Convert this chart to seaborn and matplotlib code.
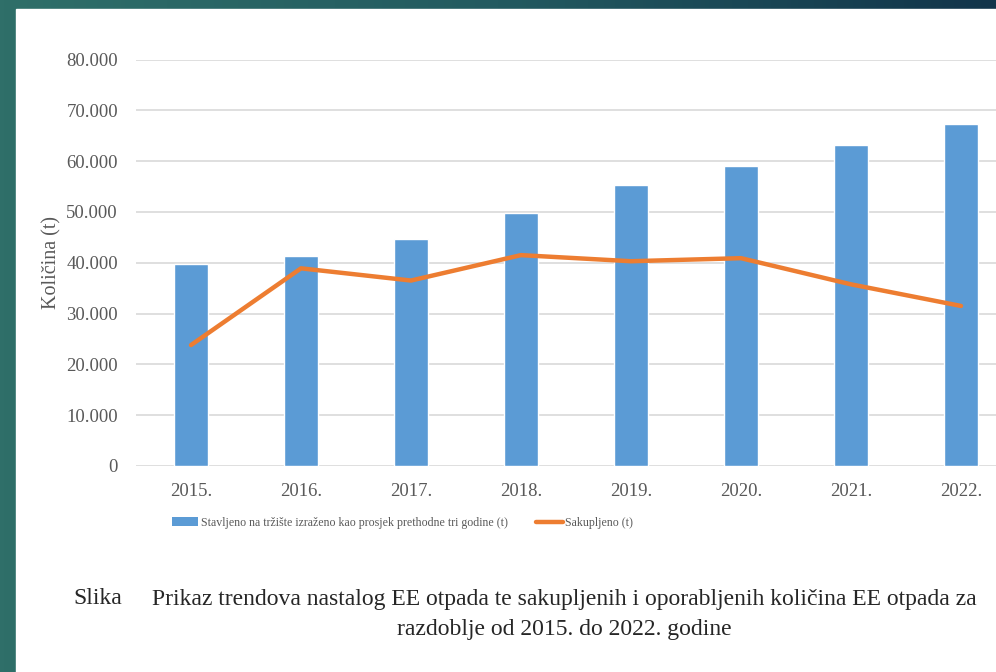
import numpy as np
import matplotlib
matplotlib.use("Agg")
import matplotlib.pyplot as plt
import seaborn as sns
from matplotlib.colors import LinearSegmentedColormap
from matplotlib.patches import Patch, Rectangle
from matplotlib.lines import Line2D
from matplotlib.ticker import FuncFormatter, MultipleLocator

# data
years = ["2015.", "2016.", "2017.", "2018.", "2019.", "2020.", "2021.", "2022."]
placed_on_market = [39700, 41400, 44700, 49800, 55300, 59100, 63150, 67400]
collected = [23800, 38900, 36500, 41500, 40300, 40900, 35750, 31500]

bar_label = "Stavljeno na tržište izraženo kao prosjek prethodne tri godine (t)"
line_label = "Sakupljeno (t)"
caption_1 = "Prikaz trendova nastalog EE otpada te sakupljenih i oporabljenih količina EE otpada za"
caption_2 = "razdoblje od 2015. do 2022. godine"

sns.set_style("white")
plt.rcParams["font.family"] = ["Liberation Serif", "DejaVu Serif"]

W, H = 996, 672
fig = plt.figure(figsize=(W / 100, H / 100), dpi=100)

# slide background: teal gradient with white content area
bg = fig.add_axes([0, 0, 1, 1], zorder=-5)
cmap = LinearSegmentedColormap.from_list("slide", ["#2f6f69", "#235a60", "#12344a"])
bg.imshow(np.linspace(0, 1, 256)[None, :], cmap=cmap, aspect="auto", extent=[0, 1, 0, 1])
bg.add_patch(Rectangle((16 / W, 0), 1, 1 - 9 / H, color="white", transform=bg.transAxes))
bg.set_xlim(0, 1)
bg.set_ylim(0, 1)
bg.axis("off")

grey = "#595959"
ax_left, ax_right = 136, 1016
ax_top, ax_bottom = 59.5, 466
ax = fig.add_axes([ax_left / W, 1 - ax_bottom / H,
                   (ax_right - ax_left) / W, (ax_bottom - ax_top) / H])
ax.set_facecolor("none")

sns.barplot(x=years, y=placed_on_market, color="#5b9bd5", width=0.318,
            saturation=1, ax=ax, zorder=2)
sns.lineplot(x=np.arange(len(years)), y=collected, color="#ed7d31",
             linewidth=3.2, ax=ax, zorder=3)

ax.set_xlim(-0.5, len(years) - 0.5)
ax.set_ylim(0, 80000)
ax.yaxis.set_major_locator(MultipleLocator(10000))
ax.yaxis.set_major_formatter(FuncFormatter(lambda v, p: f"{v:,.0f}".replace(",", ".")))
ax.grid(axis="y", color="#d9d9d9", linewidth=1.2, zorder=0)
ax.set_axisbelow(True)
sns.despine(ax=ax, left=True, bottom=True)
ax.tick_params(axis="both", length=0, colors=grey, labelsize=13.5)
ax.tick_params(axis="x", pad=12)
ax.tick_params(axis="y", pad=13)
ax.set_ylabel("Količina (t)", color=grey, fontsize=14.5)
ax.yaxis.set_label_coords((61 - ax_left) / (ax_right - ax_left), 0.5)

handles = [Patch(facecolor="#5b9bd5", edgecolor="none"),
           Line2D([0], [0], color="#ed7d31", linewidth=3.2)]
fig.legend(handles, [bar_label, line_label], ncol=2, frameon=False,
           loc="center left", bbox_to_anchor=(172 / W, 1 - 523 / H),
           borderpad=0, borderaxespad=0, handlelength=2.2, handleheight=0.75,
           handletextpad=0.2, columnspacing=2.4, labelcolor=grey,
           prop={"size": 8.6})

fig.text(73 / W, 1 - 599 / H, "Slika", fontsize=17, va="center", ha="left")
fig.text(152 / W, 1 - 599 / H, caption_1, fontsize=17, va="center", ha="left")
fig.text(564 / W, 1 - 630 / H, caption_2, fontsize=17, va="center", ha="center")

fig.savefig("out.png", dpi=100)
